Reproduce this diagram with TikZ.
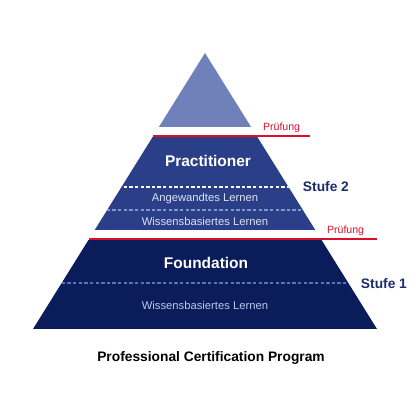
\documentclass[tikz,border=0pt]{standalone}
\usepackage{fontspec}
\setmainfont{Liberation Sans}
\usetikzlibrary{positioning}
\definecolor{tierTop}{HTML}{7080B9}
\definecolor{tierMid}{HTML}{2B3E88}
\definecolor{tierBase}{HTML}{0B1C5A}
\definecolor{examRed}{HTML}{D90F2B}
\definecolor{stageNavy}{HTML}{1B2B6E}
\definecolor{midDash}{HTML}{8595CC}
\definecolor{baseDash}{HTML}{5874BA}
\definecolor{lightText}{HTML}{DCE2F4}
\definecolor{baseText}{HTML}{B9C7EC}
\begin{document}
\begin{tikzpicture}[
    x=0.025cm, y=-0.025cm,
    level/.style={text=white, font=\bfseries\fontsize{11}{13}\selectfont},
    topic/.style={text=lightText, font=\fontsize{8}{10}\selectfont},
    stage/.style={text=stageNavy, font=\bfseries\fontsize{9.8}{12}\selectfont, anchor=west},
    exam/.style={text=examRed, font=\fontsize{7.5}{9}\selectfont, anchor=base east},
    examline/.style={draw=examRed, line width=1.4pt},
    divider/.style={dash pattern=on 2.4pt off 1.6pt, line width=0.8pt}
]
    \useasboundingbox (0,0) rectangle (420,420);
    \coordinate (apex) at (205,53);
    \coordinate (baseL) at (33,329);
    \coordinate (baseR) at (377,329);

    % pyramid bands, cut out of one triangle
    \begin{scope}
        \clip (apex) -- (baseR) -- (baseL) -- cycle;
        \fill[tierTop] (0,53) rectangle (420,127);
        \fill[tierMid] (0,137) rectangle (420,230);
        \fill[tierBase] (0,240) rectangle (420,329);
        \draw[divider, white] (0,187) -- (420,187);
        \draw[divider, midDash] (0,210) -- (420,210);
        \draw[divider, baseDash] (0,283) -- (420,283);
    \end{scope}

    % exam lines
    \coordinate (examA1) at (153,136);
    \coordinate (examA2) at (310,136);
    \coordinate (examB1) at (89,239);
    \coordinate (examB2) at (377,239);
    \draw[examline] (examA1) -- (examA2);
    \draw[examline] (examB1) -- (examB2);
    \node[exam] (examA) at (305,130.5) {Prüfung};
    \node[exam] (examB) at (369,233.5) {Prüfung};

    % labels
    \node[level] (practitioner) at (208,161) {Practitioner};
    \node[topic] (applied) at (205,199) {Angewandtes Lernen};
    \node[topic] (knowA) at (205,221) {Wissensbasiertes Lernen};
    \node[level] (foundation) at (206,263) {Foundation};
    \node[topic, text=baseText] (knowB) at (205,305) {Wissensbasiertes Lernen};

    \node[stage] (stageB) at (298,187) {Stufe 2};
    \node[stage] (stageA) at (356,283.5) {Stufe 1};

    \node[font=\bfseries\fontsize{9.8}{12}\selectfont] (title) at (211,358) {Professional Certification Program};
\end{tikzpicture}
\end{document}
